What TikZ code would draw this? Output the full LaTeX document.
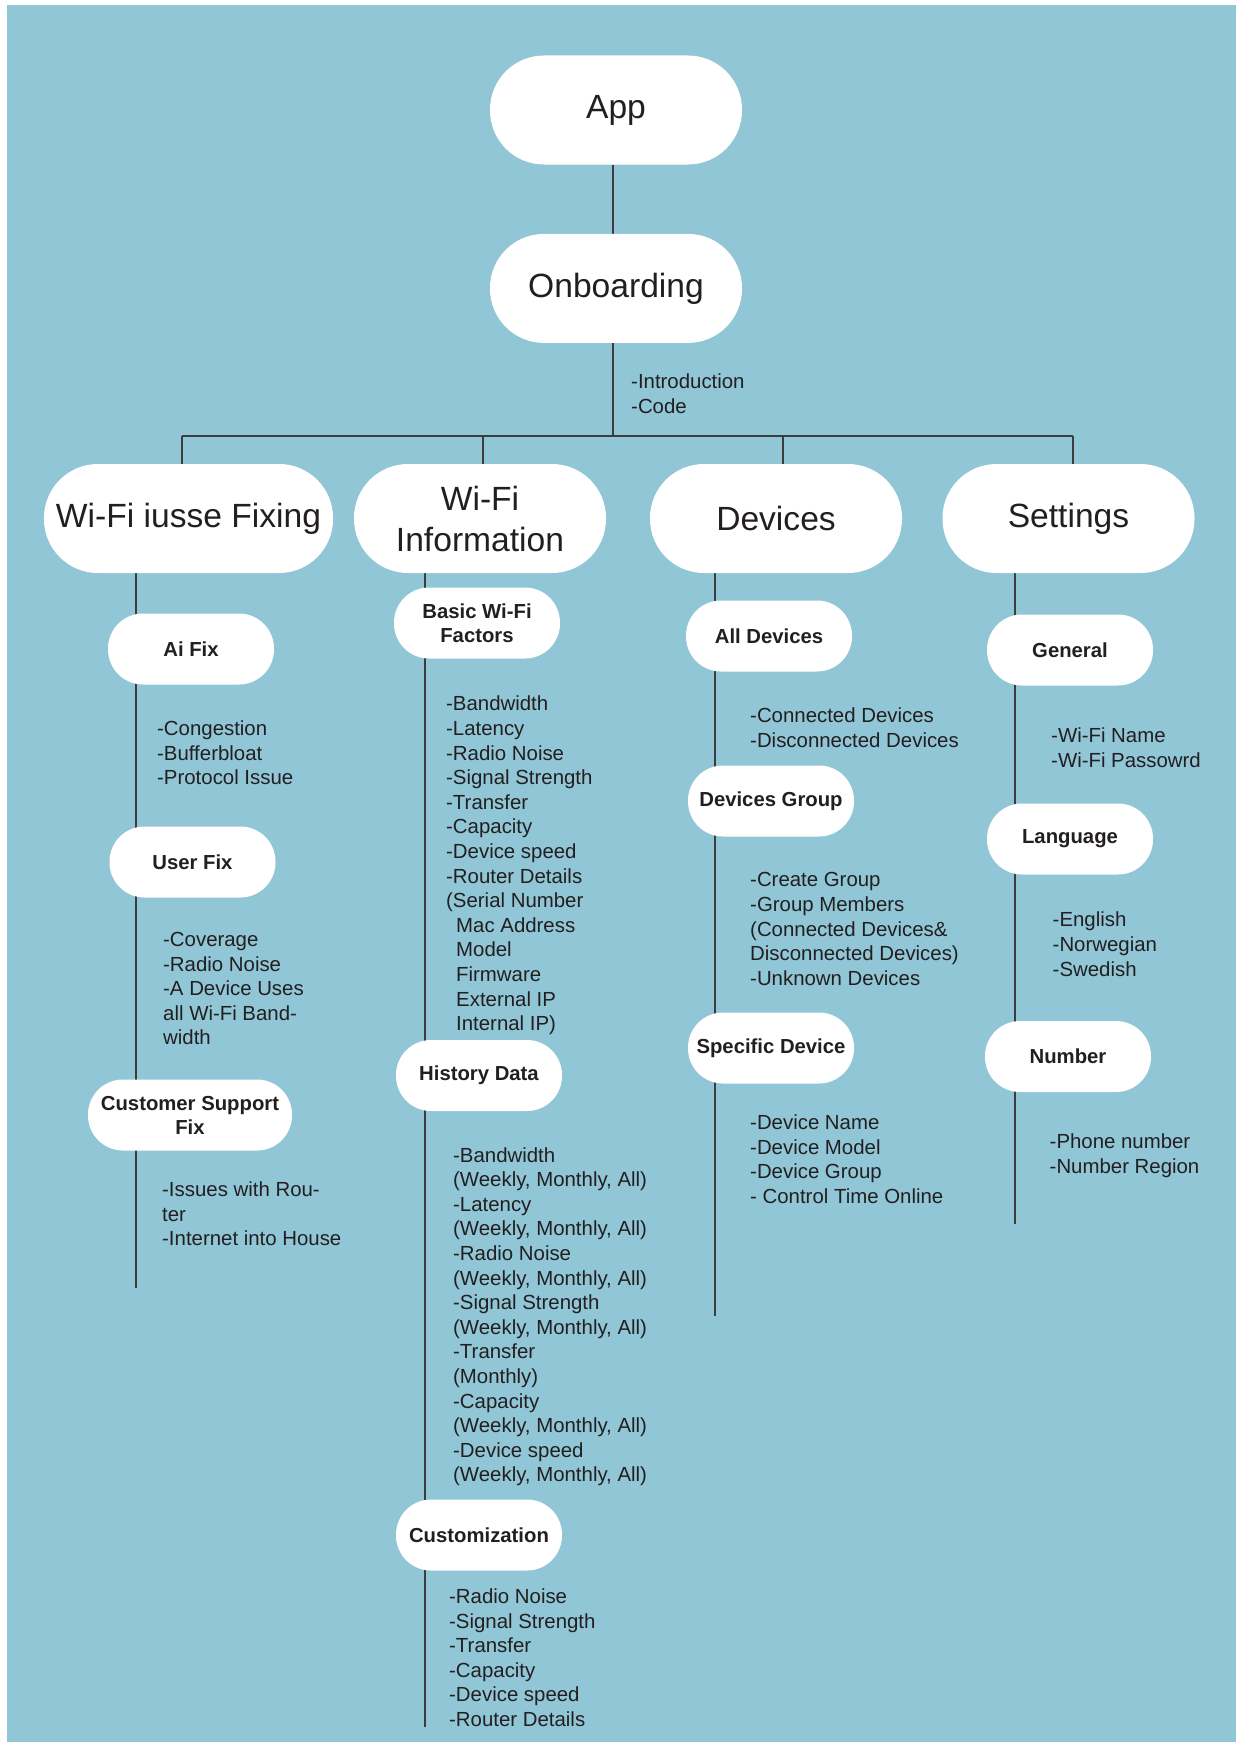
\documentclass[tikz,border=0pt]{standalone}
\usepackage{fontspec}
\setmainfont{Liberation Sans}
\usetikzlibrary{positioning,backgrounds}
\definecolor{skyback}{RGB}{144,198,214}
\definecolor{inkgray}{RGB}{35,31,32}
\definecolor{linegray}{RGB}{60,60,60}

\begin{document}
\begin{tikzpicture}[x=1pt,y=-1pt,
mainbox/.style={fill=white,rounded corners=54pt,align=center,minimum width=252pt,minimum height=109pt,inner xsep=12pt,text=inkgray,font=\fontsize{33.6}{41}\selectfont},
subbox/.style={fill=white,rounded corners=35pt,align=center,minimum width=166pt,minimum height=71pt,inner xsep=7pt,text=inkgray,font=\fontsize{20.3}{24}\selectfont\bfseries},
itemlist/.style={anchor=north west,align=left,inner sep=0pt,text=inkgray,font=\fontsize{20.4}{24.6}\selectfont},
wire/.style={draw=linegray,line width=1.6pt}]
\useasboundingbox (0,0) rectangle (1236,1742);
% top of the tree
\node[mainbox](app) at (616,110){App};
\node[mainbox,below=69pt of app](onb){Onboarding};
\node[itemlist](intro) at (631,374){-Introduction\\-Code};
% four branches
\node[mainbox](fix) at (188.5,518.5){Wi-Fi iusse Fixing};
\node[mainbox](info) at (480,518.5){Wi-Fi\\Information};
\node[mainbox](dev) at (776,518.5){Devices};
\node[mainbox](set) at (1068.5,518.5){Settings};
% Wi-Fi issue fixing
\node[subbox](aifix) at (191,649){Ai Fix};
\node[itemlist](aiitems) at (157,720.5){-Congestion\\-Bufferbloat\\-Protocol Issue};
\node[subbox](userfix) at (192.5,862){User Fix};
\node[itemlist](useritems) at (163,932){-Coverage\\-Radio Noise\\-A Device Uses\\all Wi-Fi Band-\\width};
\node[subbox,minimum width=204pt](csfix) at (190,1115){Customer Support\\Fix};
\node[itemlist](csitems) at (162,1181.5){-Issues with Rou-\\ter\\-Internet into House};
% Wi-Fi information
\node[subbox](basic) at (477,623){Basic Wi-Fi\\Factors};
\node[itemlist](basicitems) at (446,696){-Bandwidth\\-Latency\\-Radio Noise\\-Signal Strength\\-Transfer\\-Capacity\\-Device speed\\-Router Details\\(Serial Number\\\hspace*{10pt}Mac Address\\\hspace*{10pt}Model\\\hspace*{10pt}Firmware\\\hspace*{10pt}External IP\\\hspace*{10pt}Internal IP)};
\node[subbox](hist) at (479,1075.5){History Data};
\node[itemlist](histitems) at (453,1147){-Bandwidth\\(Weekly, Monthly, All)\\-Latency\\(Weekly, Monthly, All)\\-Radio Noise\\(Weekly, Monthly, All)\\-Signal Strength\\(Weekly, Monthly, All)\\-Transfer\\(Monthly)\\-Capacity\\(Weekly, Monthly, All)\\-Device speed\\(Weekly, Monthly, All)};
\node[subbox](custom) at (479,1535){Customization};
\node[itemlist](customitems) at (449,1588.5){-Radio Noise\\-Signal Strength\\-Transfer\\-Capacity\\-Device speed\\-Router Details};
% devices
\node[subbox](alldev) at (769,636){All Devices};
\node[itemlist](allitems) at (750,707.5){-Connected Devices\\-Disconnected Devices};
\node[subbox](devgroup) at (771,801){Devices Group};
\node[itemlist](groupitems) at (750,872.5){-Create Group\\-Group Members\\(Connected Devices\&\\Disconnected Devices)\\-Unknown Devices};
\node[subbox](specdev) at (771,1048){Specific Device};
\node[itemlist](specitems) at (750,1114.5){-Device Name\\-Device Model\\-Device Group\\- Control Time Online};
% settings
\node[subbox](general) at (1070,650){General};
\node[itemlist](genitems) at (1051,727.5){-Wi-Fi Name\\-Wi-Fi Passowrd};
\node[subbox](lang) at (1070,839){Language};
\node[itemlist](langitems) at (1052.5,912){-English\\-Norwegian\\-Swedish};
\node[subbox](number) at (1068,1056.5){Number};
\node[itemlist](numitems) at (1049.5,1134){-Phone number\\-Number Region};
% connectors behind the boxes
\coordinate(bar) at (613,436);
\coordinate(d1) at (182,436);\coordinate(d2) at (483,436);
\coordinate(d3) at (783,436);\coordinate(d4) at (1073,436);
\coordinate(fixend) at (136,1288);\coordinate(infoend) at (425,1727);
\coordinate(devend) at (715,1316);\coordinate(setend) at (1015,1224);
\begin{scope}[on background layer]
\fill[skyback](7,5) rectangle (1236,1742);
\draw[wire](app.south -| bar)--(onb.north -| bar);
\draw[wire](onb.south -| bar)--(bar);
\draw[wire](d1)--(d4);
\draw[wire](d1)--(d1 |- fix.north);\draw[wire](d2)--(d2 |- info.north);
\draw[wire](d3)--(d3 |- dev.north);\draw[wire](d4)--(d4 |- set.north);
\draw[wire](fixend |- fix.south)--(fixend);
\draw[wire](infoend |- info.south)--(infoend);
\draw[wire](devend |- dev.south)--(devend);
\draw[wire](setend |- set.south)--(setend);
\end{scope}
\end{tikzpicture}
\end{document}
